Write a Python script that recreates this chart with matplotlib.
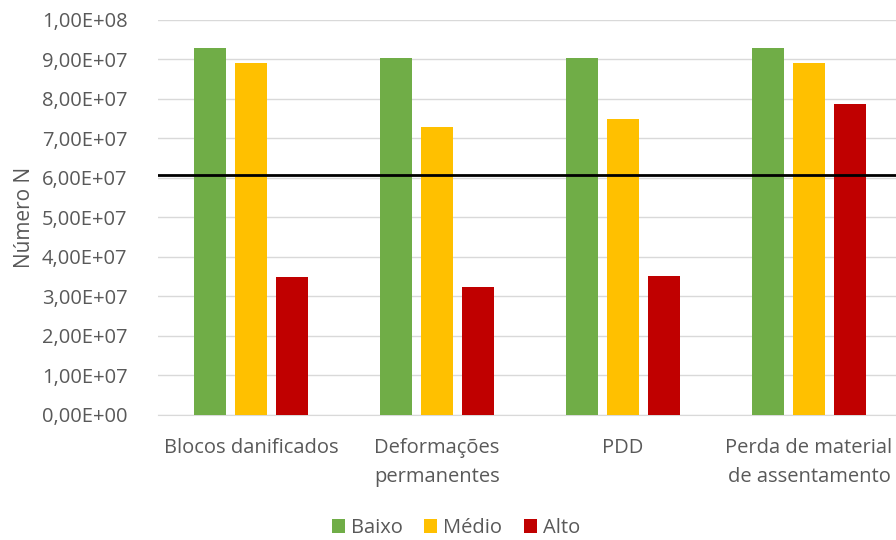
import matplotlib
matplotlib.use("Agg")
import matplotlib.pyplot as plt
import numpy as np
from matplotlib.ticker import FuncFormatter

plt.rcParams['font.family'] = ['Open Sans', 'DejaVu Sans']

categories = ["Blocos danificados", "Deformações\npermanentes", "PDD",
              "Perda de material\nde assentamento"]
series_names = ["Baixo", "Médio", "Alto"]
baixo = [9.30e7, 9.03e7, 9.03e7, 9.30e7]
medio = [8.91e7, 7.28e7, 7.48e7, 8.91e7]
alto = [3.49e7, 3.23e7, 3.52e7, 7.88e7]
limite = 6.08e7
colors = ["#70AD47", "#FFC000", "#C00000"]
text_color = "#595959"

fig = plt.figure(figsize=(8.96, 5.40), dpi=100)
# axes spans slightly past the right edge of the figure
ax = fig.add_axes([158/896, 1-414.5/540, (902-158)/896, (414.5-20)/540])

x = np.arange(len(categories))
step = 0.22
width = 0.172
for i, (vals, c, name) in enumerate(zip([baixo, medio, alto], colors, series_names)):
    ax.bar(x + (i-1)*step, vals, width, color=c, label=name, zorder=3)

ax.axhline(limite, color="black", lw=2, zorder=4)

ax.set_xlim(-0.5, 3.5)
ax.set_ylim(0, 1.0e8)
ax.set_yticks(np.arange(0, 1.01e8, 1e7))
ax.yaxis.set_major_formatter(FuncFormatter(
    lambda v, p: ("%.2E" % v).replace(".", ",")))
ax.grid(axis="y", color="#D9D9D9", lw=1, zorder=0)
ax.set_xticks(x)
ax.set_xticklabels(categories, linespacing=1.6)
for s in ["top", "right", "left"]:
    ax.spines[s].set_visible(False)
ax.spines["bottom"].set_color("#D9D9D9")
ax.tick_params(axis="both", length=0, colors=text_color, labelsize=14.5)
ax.tick_params(axis="x", pad=17)
ax.tick_params(axis="y", pad=22)
ax.set_ylabel("Número N", fontsize=15, color=text_color, labelpad=5)

fig.legend(loc="center", bbox_to_anchor=(456/896, 1-528/540), ncol=3,
           frameon=False, fontsize=14.5, handlelength=0.65, handleheight=0.65,
           handletextpad=0.3, columnspacing=1.05, labelcolor=text_color)

fig.savefig("out.png", dpi=100)
